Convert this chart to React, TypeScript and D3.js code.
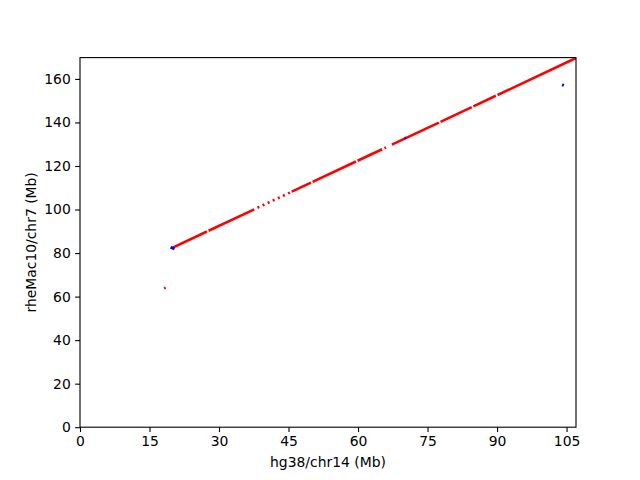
import React, { useEffect, useRef } from 'react';
import * as d3 from 'd3';

// alignment blocks: [hg38 start, hg38 end, rheMac start, rheMac end] in Mb
const forwardBlocks: [number, number, number, number][] = [
  [18.15, 18.5, 63.75, 64.1],
  [19.9, 27.4, 82.4, 89.9],
  [27.75, 37.6, 90.25, 100.1],
  [38.3, 38.7, 100.8, 101.2],
  [39.4, 39.8, 101.9, 102.3],
  [40.5, 40.9, 103.0, 103.4],
  [41.6, 42.0, 104.1, 104.5],
  [42.7, 43.1, 105.2, 105.6],
  [43.8, 44.2, 106.3, 106.7],
  [44.9, 45.3, 107.4, 107.8],
  [45.7, 49.85, 108.2, 112.35],
  [50.2, 59.55, 112.7, 122.05],
  [59.9, 65.2, 122.4, 127.7],
  [65.7, 66.05, 128.2, 128.55],
  [67.3, 77.45, 129.8, 139.95],
  [77.8, 84.55, 140.3, 147.05],
  [84.9, 89.75, 147.4, 152.25],
  [90.1, 107.0, 152.6, 169.6],
];

const reverseBlocks: [number, number, number, number][] = [
  [19.55, 20.4, 82.7, 81.85],
  [70.0, 70.3, 132.95, 132.65],
  [104.05, 104.4, 157.38, 157.03],
];

const xTicks = [0, 15, 30, 45, 60, 75, 90, 105];
const yTicks = [0, 20, 40, 60, 80, 100, 120, 140, 160];

const xLength = 107.04; // hg38 chr14
const yLength = 169.8; // rheMac10 chr7

const App: React.FC = () => {
  const ref = useRef<SVGSVGElement | null>(null);

  useEffect(() => {
    if (!ref.current) return;
    const svg = d3.select(ref.current);
    svg.selectAll('*').remove();

    const margin = { top: 57.6, right: 64, bottom: 52.8, left: 80 };
    const width = 640 - margin.left - margin.right;
    const height = 480 - margin.top - margin.bottom;
    const font = 'DejaVu Sans, sans-serif';

    const x = d3.scaleLinear().domain([0, xLength]).range([0, width]);
    const y = d3.scaleLinear().domain([0, yLength]).range([height, 0]);

    const g = svg.append('g').attr('transform', `translate(${margin.left},${margin.top})`);

    svg.append('defs').append('clipPath').attr('id', 'plot-clip')
      .append('rect').attr('width', width).attr('height', height);

    const marks = g.append('g').attr('clip-path', 'url(#plot-clip)');

    // forward strand in red, reverse in blue
    marks.selectAll('line.fwd')
      .data(forwardBlocks)
      .enter()
      .append('line')
      .attr('class', 'fwd')
      .attr('x1', d => x(d[0]))
      .attr('x2', d => x(d[1]))
      .attr('y1', d => y(d[2]))
      .attr('y2', d => y(d[3]))
      .attr('stroke', '#ff0000')
      .attr('stroke-width', 2.6)
      .attr('stroke-linecap', 'butt');

    marks.selectAll('line.rev')
      .data(reverseBlocks)
      .enter()
      .append('line')
      .attr('class', 'rev')
      .attr('x1', d => x(d[0]))
      .attr('x2', d => x(d[1]))
      .attr('y1', d => y(d[2]))
      .attr('y2', d => y(d[3]))
      .attr('stroke', '#0000ff')
      .attr('stroke-width', 2.8)
      .attr('stroke-linecap', 'butt');

    // axes
    const xAxis = g.append('g')
      .attr('transform', `translate(0,${height})`)
      .call(d3.axisBottom(x).tickValues(xTicks).tickSize(4.86).tickPadding(4.4).tickSizeOuter(0));
    const yAxis = g.append('g')
      .call(d3.axisLeft(y).tickValues(yTicks).tickSize(4.86).tickPadding(4.4).tickSizeOuter(0));

    [xAxis, yAxis].forEach(a => {
      a.select('.domain').remove();
      a.selectAll('line').attr('stroke', '#000').attr('stroke-width', 1.1);
      a.selectAll('text').attr('font-family', font).attr('font-size', 13.9).attr('fill', '#000');
    });

    // frame
    g.append('rect')
      .attr('width', width)
      .attr('height', height)
      .attr('fill', 'none')
      .attr('stroke', '#000')
      .attr('stroke-width', 1.1);

    svg.append('text')
      .attr('x', margin.left + width / 2)
      .attr('y', 467)
      .attr('text-anchor', 'middle')
      .attr('font-family', font)
      .attr('font-size', 13.9)
      .text('hg38/chr14 (Mb)');

    svg.append('text')
      .attr('transform', `translate(36,${margin.top + height / 2}) rotate(-90)`)
      .attr('text-anchor', 'middle')
      .attr('font-family', font)
      .attr('font-size', 13.9)
      .text('rheMac10/chr7 (Mb)');
  }, []);

  return (
    <div style={{ position: 'fixed', left: 0, top: 0, width: 640, height: 480, background: '#fff' }}>
      <svg ref={ref} width={640} height={480} />
    </div>
  );
};

export default App;
